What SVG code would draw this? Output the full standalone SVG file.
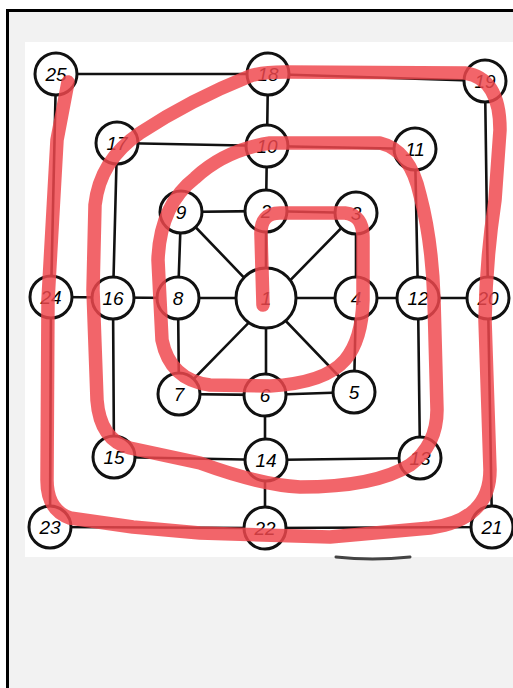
<svg xmlns="http://www.w3.org/2000/svg" width="513" height="688" viewBox="0 0 513 688">
<style>
.ln{stroke:#111;stroke-width:2.6;fill:none;stroke-linecap:round}
.nd circle{fill:#fff;stroke:#111;stroke-width:3}
.nd text{font-family:"Liberation Sans",Arial,sans-serif;font-size:19px;font-style:italic;fill:#000;text-anchor:middle;dominant-baseline:central}
.red{fill:none;stroke:#f0484e;stroke-width:13.5;stroke-linecap:round;stroke-linejoin:round;opacity:0.84}
</style>
<rect x="0" y="0" width="513" height="688" fill="#fff"/>
<rect x="7.5" y="10.5" width="520" height="700" fill="#f2f2f2" stroke="#000" stroke-width="3"/>
<rect x="25" y="42" width="488" height="515" fill="#fff"/>
<path d="M336 557 Q372 561 410 557" stroke="#444" stroke-width="3" fill="none" stroke-linecap="round"/>
<g id="connectors">
<polyline class="ln" points="56,74 268,74 485,81 488,298 492,527 265,528 50,527 51,297 56,74"/>
<polyline class="ln" points="117,143 267,146 415,149 418,298 420,458 266,460 114,457 113,298 117,143"/>
<polyline class="ln" points="181,212 266,211 356,213 356,298 354,392 265,395 179,394 178,298 181,212"/>
<line class="ln" x1="268" y1="74" x2="266" y2="211"/>
<line class="ln" x1="265" y1="395" x2="265" y2="528"/>
<line class="ln" x1="51" y1="297" x2="178" y2="298"/>
<line class="ln" x1="356" y1="298" x2="488" y2="298"/>
<line class="ln" x1="266" y1="211" x2="266" y2="395"/>
<line class="ln" x1="178" y1="298" x2="356" y2="298"/>
<line class="ln" x1="181" y1="212" x2="354" y2="392"/>
<line class="ln" x1="356" y1="213" x2="179" y2="394"/>
</g>
<g id="n1" class="nd"><circle cx="266" cy="298" r="30"/><text x="266" y="298">1</text></g>
<g id="n2" class="nd"><circle cx="266" cy="211" r="21"/><text x="266" y="211">2</text></g>
<g id="n3" class="nd"><circle cx="356" cy="213" r="21"/><text x="356" y="213">3</text></g>
<g id="n4" class="nd"><circle cx="356" cy="298" r="21"/><text x="356" y="298">4</text></g>
<g id="n5" class="nd"><circle cx="354" cy="392" r="21"/><text x="354" y="392">5</text></g>
<g id="n6" class="nd"><circle cx="265" cy="395" r="21"/><text x="265" y="395">6</text></g>
<g id="n7" class="nd"><circle cx="179" cy="394" r="21"/><text x="179" y="394">7</text></g>
<g id="n8" class="nd"><circle cx="178" cy="298" r="21"/><text x="178" y="298">8</text></g>
<g id="n9" class="nd"><circle cx="181" cy="212" r="21"/><text x="181" y="212">9</text></g>
<g id="n10" class="nd"><circle cx="267" cy="146" r="21"/><text x="267" y="146">10</text></g>
<g id="n11" class="nd"><circle cx="415" cy="149" r="21"/><text x="415" y="149">11</text></g>
<g id="n12" class="nd"><circle cx="418" cy="298" r="21"/><text x="418" y="298">12</text></g>
<g id="n13" class="nd"><circle cx="420" cy="458" r="21"/><text x="420" y="458">13</text></g>
<g id="n14" class="nd"><circle cx="266" cy="460" r="21"/><text x="266" y="460">14</text></g>
<g id="n15" class="nd"><circle cx="114" cy="457" r="21"/><text x="114" y="457">15</text></g>
<g id="n16" class="nd"><circle cx="113" cy="298" r="21"/><text x="113" y="298">16</text></g>
<g id="n17" class="nd"><circle cx="117" cy="143" r="21"/><text x="117" y="143">17</text></g>
<g id="n18" class="nd"><circle cx="268" cy="74" r="21"/><text x="268" y="74">18</text></g>
<g id="n19" class="nd"><circle cx="485" cy="81" r="21"/><text x="485" y="81">19</text></g>
<g id="n20" class="nd"><circle cx="488" cy="298" r="21"/><text x="488" y="298">20</text></g>
<g id="n21" class="nd"><circle cx="492" cy="527" r="21"/><text x="492" y="527">21</text></g>
<g id="n22" class="nd"><circle cx="265" cy="528" r="21"/><text x="265" y="528">22</text></g>
<g id="n23" class="nd"><circle cx="50" cy="527" r="21"/><text x="50" y="527">23</text></g>
<g id="n24" class="nd"><circle cx="51" cy="297" r="21"/><text x="51" y="297">24</text></g>
<g id="n25" class="nd"><circle cx="56" cy="74" r="21"/><text x="56" y="74">25</text></g>
<path class="red" d="M263 305 L261 235 Q260 213 280 213 L345 213 Q363 215 363 237 L363 300 Q362 340 345 360 Q325 383 270 386 L210 385 Q170 380 162 340 L158 260 Q160 205 195 178 Q225 150 270 143 L380 143 Q410 150 420 195 Q432 240 434 300 L437 410 Q437 445 410 465 Q375 487 300 487 Q260 485 200 463 L130 448 Q100 440 97 400 L93 290 L95 205 Q100 160 140 133 Q190 100 250 76 Q262 72 285 72 L465 73 Q500 78 500 130 L495 200 Q486 260 485 320 L490 470 Q490 520 430 528 L330 537 L200 533 L133 527 L70 518 Q47 510 47 480 L48 300 L57 140 L68 82"/>
</svg>
